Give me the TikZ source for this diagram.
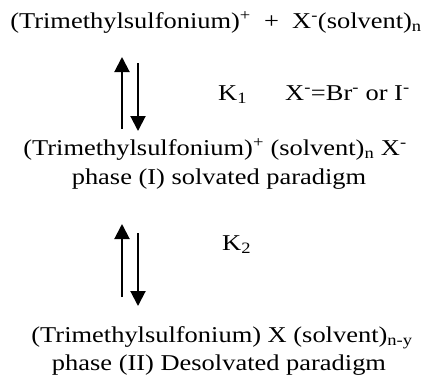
\documentclass[tikz,border=0pt]{standalone}
\usepackage{fontspec}
\usepackage{tikz}
\usetikzlibrary{positioning, arrows.meta}
\newfontfamily\chemfont[FakeStretch=1.17]{Liberation Serif}

\tikzset{
  chem/.style={font=\chemfont\fontsize{22.6}{27}\selectfont, inner sep=0pt, anchor=base},
  eqarrow/.style={-{Triangle[width=15pt,length=15pt]}, line width=2pt}
}

\begin{document}
\begin{tikzpicture}[x=1pt, y=1pt]
  \useasboundingbox (0,0) rectangle (427,-376);

  % Reactants
  \node[chem] (top) at (216,-28)
    {(Trimethylsulfonium)\textsuperscript{+}\ \ +\ \ X\textsuperscript{-}(solvent)\textsubscript{n}};

  % Phase (I)
  \node[chem] (solv) at (215,-155)
    {(Trimethylsulfonium)\textsuperscript{+} (solvent)\textsubscript{n} X\textsuperscript{-}};
  \node[chem] (phaseI) at (219,-184) {phase (I) solvated paradigm};

  % Phase (II)
  \node[chem] (desolv) at (222,-342)
    {(Trimethylsulfonium) X (solvent)\textsubscript{n-y}};
  \node[chem] (phaseII) at (219,-370) {phase (II) Desolvated paradigm};

  % Constants
  \node[chem, anchor=base west] (k1) at (218,-100) {K\textsubscript{1}};
  \node[chem, anchor=base west] (xnote) at (285,-100)
    {X\textsuperscript{-}=Br\textsuperscript{-} or I\textsuperscript{-}};
  \node[chem, anchor=base west] (k2) at (222,-250) {K\textsubscript{2}};

  % Arrow ends
  \coordinate (upA1) at (122,-129);
  \coordinate (upA2) at (122,-57);
  \coordinate (dnA1) at (138,-63);
  \coordinate (dnA2) at (138,-131);
  \coordinate (upB1) at (122,-297);
  \coordinate (upB2) at (122,-224);
  \coordinate (dnB1) at (138,-233);
  \coordinate (dnB2) at (138,-306);

  % Equilibria
  \draw[eqarrow] (upA1) -- (upA2);
  \draw[eqarrow] (dnA1) -- (dnA2);
  \draw[eqarrow] (upB1) -- (upB2);
  \draw[eqarrow] (dnB1) -- (dnB2);
\end{tikzpicture}
\end{document}
